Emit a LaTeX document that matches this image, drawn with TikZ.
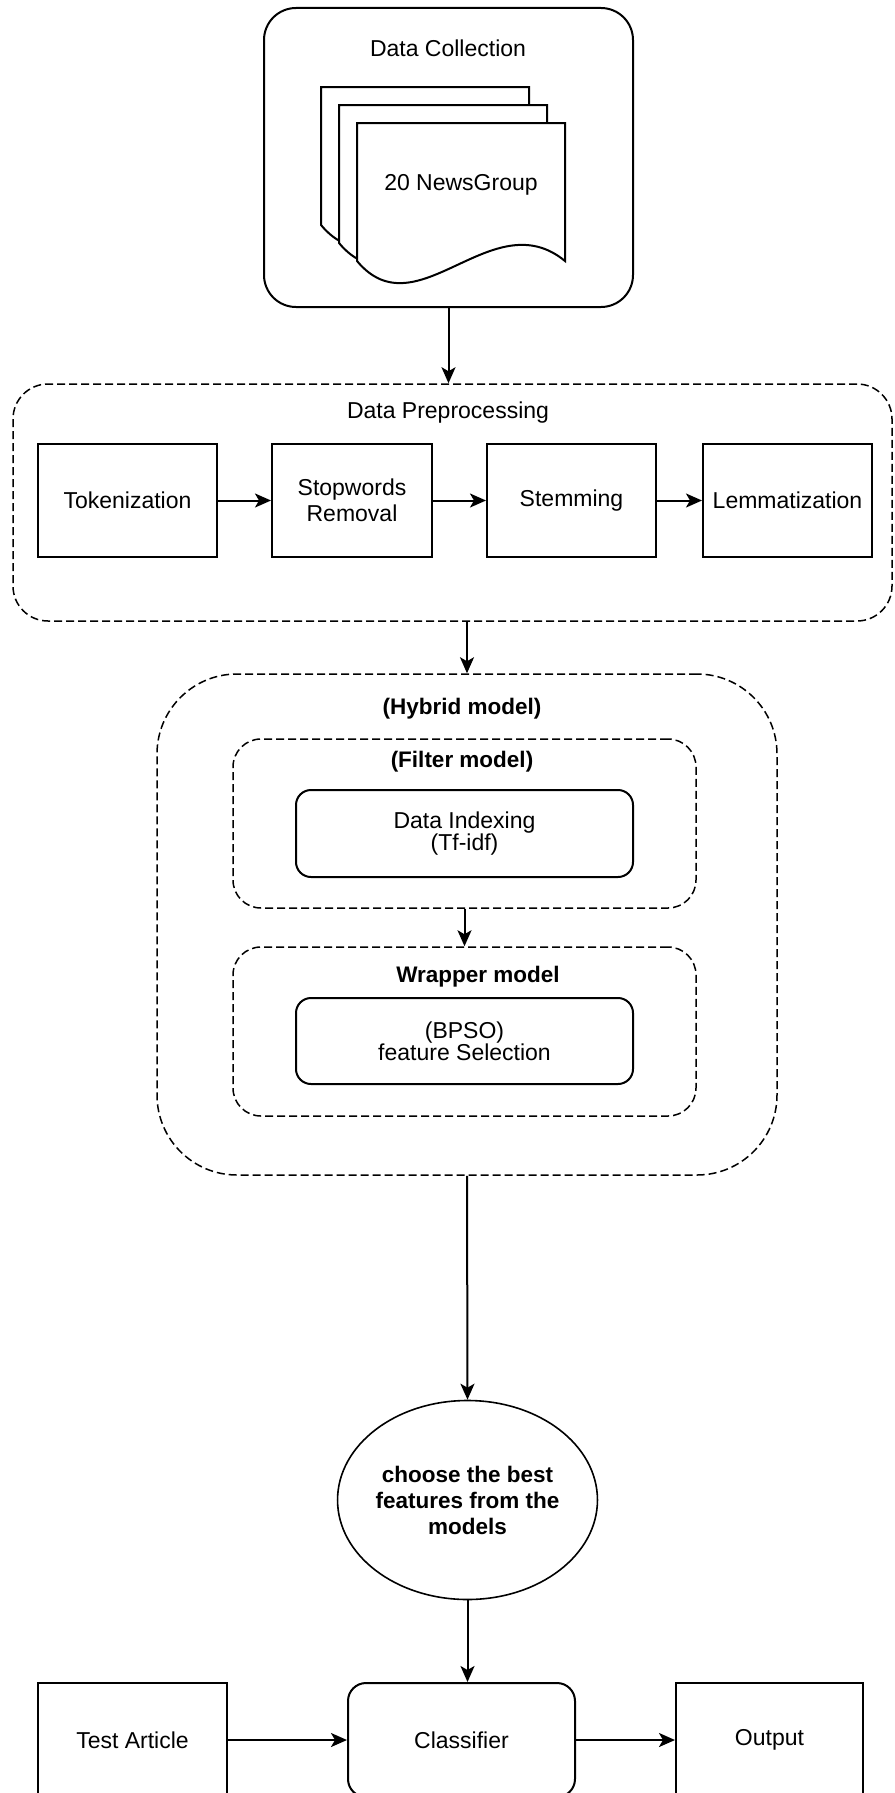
\documentclass[tikz,border=0pt]{standalone}
\usepackage{fontspec}
\setmainfont{Liberation Sans}
\usetikzlibrary{arrows.meta,shapes.geometric}

\begin{document}
\begin{tikzpicture}[x=1pt,y=-1pt,line width=2pt,
  font=\fontsize{23}{26}\selectfont,
  arr/.style={-{Stealth[length=16pt,width=14pt,inset=4pt]}},
  plainbox/.style={draw,inner sep=0pt,align=center},
  dashbox/.style={draw,inner sep=0pt,line width=1.5pt,dash pattern=on 8pt off 4pt},
  title/.style={font=\fontsize{22.5}{26}\selectfont\bfseries}]
\useasboundingbox (0,0) rectangle (894,1793);

% data collection with the stack of documents
\node[plainbox,rounded corners=32pt,minimum width=369,minimum height=299] (dc) at (448.5,157.5) {};
\node (dctitle) at (448,48) {Data Collection};
\foreach \d in {0,18,36}{
  \begin{scope}[shift={(321+\d,87+\d)}]
    \draw[fill=white] (0,0) -- (208,0) -- (208,138)
      .. controls (135,78) and (60,210) .. (0,138) -- cycle;
  \end{scope}
}
\node (news) at (461,185) {20 NewsGroup};

% preprocessing
\node[dashbox,rounded corners=35pt,minimum width=879,minimum height=237] (pre) at (452.5,502.5) {};
\node (pretitle) at (448,413) {Data Preprocessing};
\node[plainbox,minimum width=179,minimum height=113] (tok) at (127.5,500.5) {Tokenization};
\node[plainbox,minimum width=160,minimum height=113] (stop) at (352,500.5) {Stopwords\\Removal};
\node[plainbox,minimum width=169,minimum height=113] (stem) at (571.5,500.5) {Stemming};
\node[plainbox,minimum width=169,minimum height=113] (lem) at (787.5,500.5) {Lemmatization};
\draw[arr] (tok) -- (stop);
\draw[arr] (stop) -- (stem);
\draw[arr] (stem) -- (lem);

% hybrid model
\node[dashbox,rounded corners=80pt,minimum width=620,minimum height=501] (hyb) at (467,924.5) {};
\node[title] (hybtitle) at (462,709) {(Hybrid model)};
\node[dashbox,rounded corners=28pt,minimum width=463,minimum height=169] (filt) at (464.5,823.5) {};
\node[title] (filttitle) at (462,762) {(Filter model)};
\node[plainbox,rounded corners=15pt,minimum width=337,minimum height=87,
  font=\fontsize{23}{21}\selectfont] (idx) at (464.5,833.5) {Data Indexing\\(Tf-idf)};
\node[dashbox,rounded corners=28pt,minimum width=463,minimum height=169] (wrap) at (464.5,1031.5) {};
\node[title] (wraptitle) at (478,977) {Wrapper model};
\node[plainbox,rounded corners=15pt,minimum width=337,minimum height=86,
  font=\fontsize{23}{21}\selectfont] (bpso) at (464.5,1041) {(BPSO)\\feature Selection};
\draw[arr] (filt) -- (wrap);

% selection and classification
\node[plainbox,ellipse,line width=1.6pt,minimum width=251,minimum height=199,
  font=\fontsize{22.5}{26}\selectfont\bfseries] (choose) at (467.5,1500)
  {choose the best\\features from the\\models};
\node[plainbox,minimum width=189,minimum height=114] (test) at (132.5,1740) {Test Article};
\node[plainbox,rounded corners=18pt,minimum width=227,minimum height=114] (clf) at (461.5,1740) {Classifier};
\node[plainbox,minimum width=187,minimum height=114] (out) at (769.5,1740) {Output};

\draw[arr] (dc.south) -- (dc.south |- pre.north);
\draw[arr] (pre.south -| hyb.north) -- (hyb.north);
\draw[arr] (hyb.south) -- (choose.north);
\draw[arr] (choose.south) -- (choose.south |- clf.north);
\draw[arr] (test) -- (clf);
\draw[arr] (clf) -- (out);
\end{tikzpicture}
\end{document}
